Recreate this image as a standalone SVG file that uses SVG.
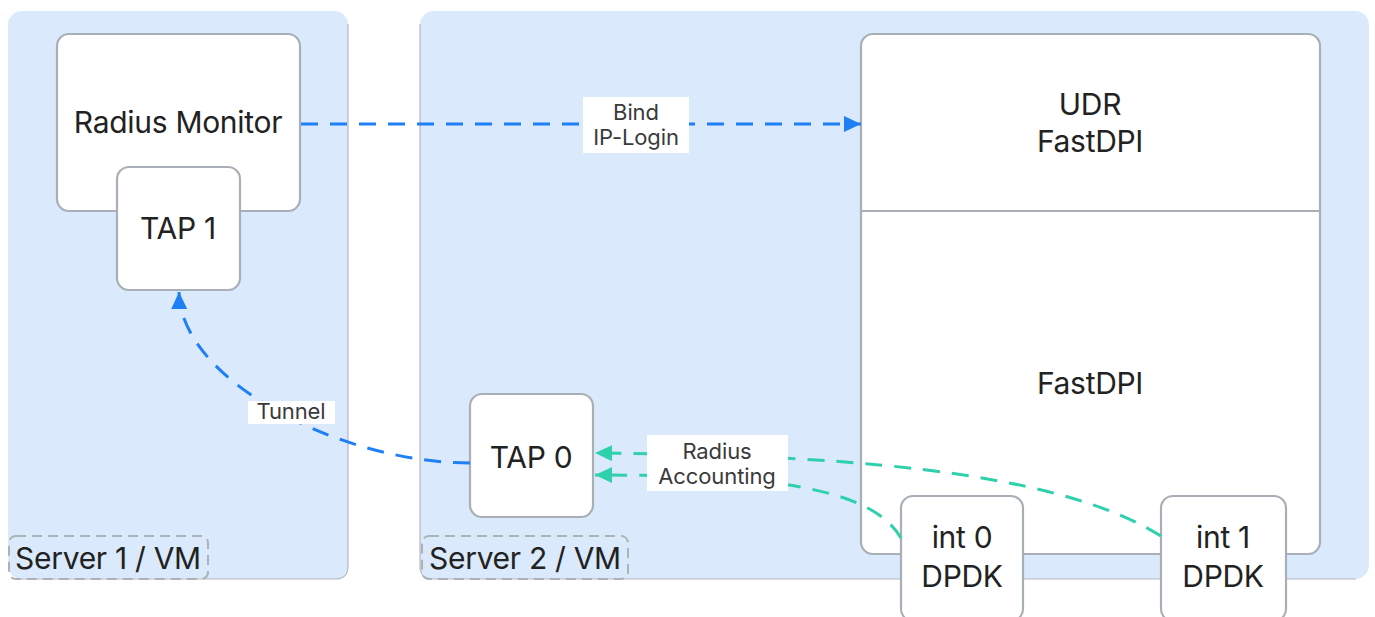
<svg xmlns="http://www.w3.org/2000/svg" width="1375" height="617" viewBox="0 0 1375 617">
<style>
.panel{fill:#dae9fb;}
.edge{stroke:#b3b8be;stroke-width:1.2;fill:none;}
.node{fill:#ffffff;stroke:#a9afb6;stroke-width:2.2;}
.t{font-family:Inter,"Liberation Sans",sans-serif;font-size:30px;fill:#222;text-anchor:middle;letter-spacing:-0.3px;}
.lt{font-family:Inter,"Liberation Sans",sans-serif;font-size:22px;fill:#3a3a3a;text-anchor:middle;letter-spacing:-0.1px;}
.lbl{fill:#ffffff;}
.srv{fill:none;stroke:#aeb2b7;stroke-width:2;stroke-dasharray:10 6;}
.blue{fill:none;stroke:#1f7ff5;stroke-width:3;stroke-dasharray:17 12;}
.teal{fill:none;stroke:#2fd0ac;stroke-width:3;stroke-dasharray:17 12;}
</style>
<defs>
<marker id="ab" markerUnits="userSpaceOnUse" markerWidth="18" markerHeight="16" refX="17" refY="8" orient="auto"><path d="M0,0 L17,8 L0,16 z" fill="#1f7ff5"/></marker>
<marker id="at" markerUnits="userSpaceOnUse" markerWidth="18" markerHeight="16" refX="17" refY="8" orient="auto"><path d="M0,0 L17,8 L0,16 z" fill="#2fd0ac"/></marker>
</defs>
<rect width="1375" height="617" fill="#ffffff"/>
<g id="server1">
<rect class="panel" x="8" y="11" width="340" height="568" rx="14"/>
<path class="edge" d="M348,24 V566 Q348,579 335,579 H20"/>
<rect class="srv" x="9" y="536" width="199" height="43" rx="7"/>
<text class="t" x="108" y="569">Server 1 / VM</text>
</g>
<g id="server2">
<rect class="panel" x="420" y="11" width="949" height="568" rx="14"/>
<path class="edge" d="M420,24 V566 Q420,579 433,579 H1356"/>
<rect class="srv" x="422" y="536" width="206" height="43" rx="7"/>
<text class="t" x="525" y="569">Server 2 / VM</text>
</g>
<g id="radius-monitor">
<rect class="node" x="57" y="34" width="243" height="177" rx="12"/>
<text class="t" x="178" y="133">Radius Monitor</text>
</g>
<g id="tap1">
<rect class="node" x="117" y="167" width="123" height="123" rx="12"/>
<text class="t" x="178" y="239">TAP 1</text>
</g>
<g id="fastdpi">
<rect class="node" x="861" y="34" width="459" height="520" rx="12"/>
<line x1="861" y1="211" x2="1320" y2="211" stroke="#a9afb6" stroke-width="2.2"/>
<text class="t" x="1090" y="115">UDR</text>
<text class="t" x="1090" y="152">FastDPI</text>
<text class="t" x="1090" y="394">FastDPI</text>
</g>
<g id="tap0">
<rect class="node" x="470" y="394" width="123" height="123" rx="12"/>
<text class="t" x="531" y="468">TAP 0</text>
</g>
<g id="int0">
<rect class="node" x="901" y="496" width="122" height="125" rx="12"/>
<text class="t" x="962" y="548">int 0</text>
<text class="t" x="962" y="587">DPDK</text>
</g>
<g id="int1">
<rect class="node" x="1161" y="496" width="125" height="125" rx="12"/>
<text class="t" x="1223" y="548">int 1</text>
<text class="t" x="1223" y="587">DPDK</text>
</g>
<g id="connectors">
<line class="blue" x1="301" y1="124" x2="861" y2="124" marker-end="url(#ab)"/>
<path class="blue" d="M470,463 C340,463 180,380 179,292" marker-end="url(#ab)"/>
<path class="teal" d="M1161,536 C1070,480 900,455 595,453" marker-end="url(#at)"/>
<path class="teal" d="M901,538 C870,485 760,475 595,475" marker-end="url(#at)"/>
<rect class="lbl" x="583" y="97" width="106" height="56"/>
<text class="lt" x="636" y="120">Bind</text>
<text class="lt" x="636" y="145">IP-Login</text>
<rect class="lbl" x="248" y="401" width="87" height="23"/>
<text class="lt" x="291" y="419">Tunnel</text>
<rect class="lbl" x="647" y="435" width="141" height="56"/>
<text class="lt" x="717" y="459">Radius</text>
<text class="lt" x="717" y="484">Accounting</text>
</g>
</svg>
